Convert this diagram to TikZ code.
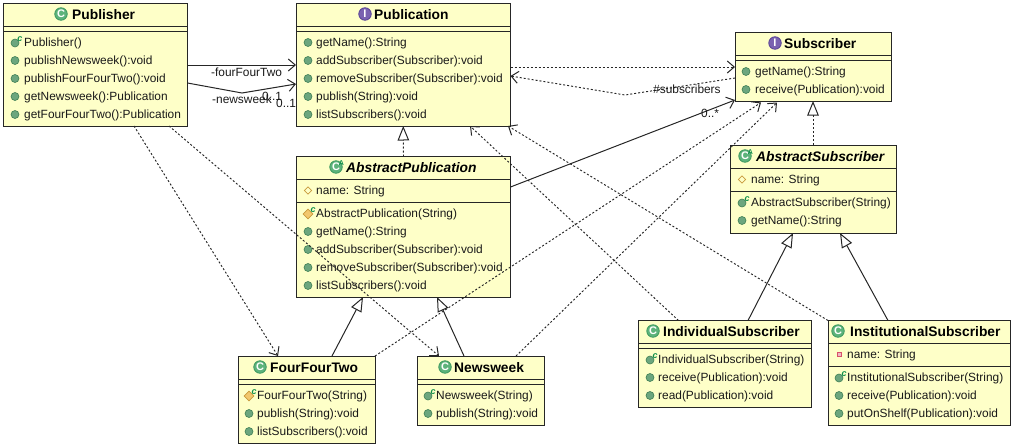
\documentclass[tikz,border=0pt]{standalone}
\usepackage{fontspec}
\setmainfont{Liberation Sans}
\usetikzlibrary{arrows.meta,calc,shapes.geometric}
\definecolor{boxfill}{HTML}{FEFFC8}
\definecolor{boxline}{HTML}{262626}
\definecolor{pubgreen}{HTML}{6CA67E}
\definecolor{pubedge}{HTML}{3F7F55}
\definecolor{classgreen}{HTML}{5DB37B}
\definecolor{classedge}{HTML}{3E9A60}
\definecolor{ctorgreen}{HTML}{0E8F4A}
\definecolor{ifacepurple}{HTML}{7A62B0}
\definecolor{ifaceedge}{HTML}{5A4496}
\definecolor{protorange}{HTML}{F2C76E}
\definecolor{protedge}{HTML}{C89A3C}
\definecolor{privred}{HTML}{D8506A}
\tikzset{
  classbox/.style={draw=boxline,fill=boxfill,line width=1pt,inner sep=0pt,outer sep=0pt,anchor=north west},
  titletext/.style={font=\fontsize{13.8}{15}\selectfont\bfseries,text=black,inner sep=0pt,anchor=base west},
  abstracttext/.style={font=\fontsize{13.8}{15}\selectfont\bfseries\itshape,text=black,inner sep=0pt,anchor=base west},
  membertext/.style={font=\fontsize{11.9}{14}\selectfont,text=black!90,inner sep=0pt,anchor=base west},
  labeltext/.style={font=\fontsize{11.9}{14}\selectfont,text=black!90,inner sep=0pt,anchor=base west},
  greenbadge/.style={circle,draw=classedge,fill=classgreen,line width=.8pt,inner sep=0pt,minimum size=12.5pt,text=white,font=\fontsize{11}{11}\selectfont\bfseries},
  purplebadge/.style={circle,draw=ifaceedge,fill=ifacepurple,line width=.8pt,inner sep=0pt,minimum size=12.5pt,text=white,font=\fontsize{11}{11}\selectfont\bfseries},
  bullet/.style={circle,draw=pubedge,fill=pubgreen,line width=.6pt,inner sep=0pt,minimum size=8pt},
  protfield/.style={diamond,draw=protedge,fill=boxfill,line width=.8pt,inner sep=0pt,minimum size=7.5pt},
  protctor/.style={diamond,draw=protedge,fill=protorange,line width=.6pt,inner sep=0pt,minimum size=10pt},
  privfield/.style={rectangle,draw=privred,fill=privred!40,line width=1pt,inner sep=0pt,minimum size=4pt},
  marker/.style={text=ctorgreen,font=\fontsize{9}{9}\selectfont\bfseries\itshape,inner sep=0pt},
  abstractmark/.style={text=ctorgreen,font=\fontsize{7}{7}\selectfont\bfseries,inner sep=0pt},
  solidline/.style={draw=boxline,line width=1pt},
  dotline/.style={draw=boxline,line width=.95pt,dash pattern=on 2pt off 2pt},
  barb/.style={-{Straight Barb[length=7pt,width=12pt,line width=1pt]}},
  hollow/.style={-{Triangle[open,length=14.5pt,width=11.5pt,line width=1pt]}},
}
\newcounter{itemno}
\newcommand{\classrect}[7]{% name x0 y0 x1 y1 sep1 sep2
  \node[classbox,minimum width=#4pt-#2pt,minimum height=#5pt-#3pt] (#1) at (#2,#3) {};
  \draw[boxline,line width=1pt] (#2,#6) -- (#4,#6);
  \draw[boxline,line width=1pt] (#2,#7) -- (#4,#7);}
\newcommand{\titlerow}[6]{% badge style, letter, badge x, text x, y, text
  \stepcounter{itemno}
  \node[#1] (b\arabic{itemno}) at (#3,#5) {#2};
  \node[titletext] (t\arabic{itemno}) at (#4,#5+5) {#6};}
\newcommand{\abstractrow}[4]{% badge x, text x, y, text
  \stepcounter{itemno}
  \node[greenbadge] (b\arabic{itemno}) at (#1,#3) {C};
  \node[abstractmark] (a\arabic{itemno}) at (#1+5.5,#3-4) {A};
  \node[abstracttext] (t\arabic{itemno}) at (#2,#3+5) {#4};}
\newcommand{\methodrow}[4]{% icon x, text x, y, text
  \stepcounter{itemno}
  \node[bullet] (b\arabic{itemno}) at (#1,#3+.5) {};
  \node[membertext] (m\arabic{itemno}) at (#2,#3+4.3) {#4};}
\newcommand{\ctorrow}[4]{%
  \stepcounter{itemno}
  \node[bullet] (b\arabic{itemno}) at (#1,#3+1) {};
  \node[marker] (c\arabic{itemno}) at (#1+5,#3-3) {c};
  \node[membertext] (m\arabic{itemno}) at (#2,#3+4.3) {#4};}
\newcommand{\protctorrow}[4]{%
  \stepcounter{itemno}
  \node[protctor] (b\arabic{itemno}) at (#1,#3+1) {};
  \node[marker] (c\arabic{itemno}) at (#1+5,#3-3) {c};
  \node[membertext] (m\arabic{itemno}) at (#2,#3+4.3) {#4};}
\newcommand{\protfieldrow}[4]{%
  \stepcounter{itemno}
  \node[protfield] (b\arabic{itemno}) at (#1,#3+.5) {};
  \node[membertext] (m\arabic{itemno}) at (#2,#3+4.3) {#4};}
\newcommand{\privfieldrow}[4]{%
  \stepcounter{itemno}
  \node[privfield] (b\arabic{itemno}) at (#1,#3+.5) {};
  \node[membertext] (m\arabic{itemno}) at (#2,#3+4.3) {#4};}
\begin{document}
\begin{tikzpicture}[x=1pt,y=-1pt]
\useasboundingbox (0,0) rectangle (1014,447);
% Publisher
\classrect{publisher}{3.5}{3.5}{187.5}{126}{26}{31}
\titlerow{greenbadge}{C}{61}{72}{14}{Publisher}
\ctorrow{15}{24}{42}{Publisher()}
\methodrow{15}{24}{60}{publishNewsweek():void}
\methodrow{15}{24}{78}{publishFourFourTwo():void}
\methodrow{15}{24}{96}{getNewsweek():Publication}
\methodrow{15}{24}{114}{getFourFourTwo():Publication}
% Publication
\classrect{publication}{296}{3.5}{510.5}{126}{26}{31}
\titlerow{purplebadge}{I}{365}{374}{14}{Publication}
\methodrow{308}{316}{42}{getName():String}
\methodrow{308}{316}{60}{addSubscriber(Subscriber):void}
\methodrow{308}{316}{78}{removeSubscriber(Subscriber):void}
\methodrow{308}{316}{96}{publish(String):void}
\methodrow{308}{316}{114}{listSubscribers():void}
% AbstractPublication
\classrect{abstractpub}{296.5}{156.5}{510.5}{297}{179}{202}
\abstractrow{336}{346}{167}{AbstractPublication}
\protfieldrow{308}{316}{190}{name: String}
\protctorrow{308}{316}{213}{AbstractPublication(String)}
\methodrow{308}{316}{231}{getName():String}
\methodrow{308}{316}{249}{addSubscriber(Subscriber):void}
\methodrow{308}{316}{267}{removeSubscriber(Subscriber):void}
\methodrow{308}{316}{285}{listSubscribers():void}
% Subscriber
\classrect{subscriber}{735}{32.5}{891}{101}{55}{60}
\titlerow{purplebadge}{I}{775}{784}{43}{Subscriber}
\methodrow{746}{755}{71}{getName():String}
\methodrow{746}{755}{89}{receive(Publication):void}
% AbstractSubscriber
\classrect{abstractsub}{730}{145}{896}{233}{168}{191}
\abstractrow{745}{756}{156}{AbstractSubscriber}
\protfieldrow{742}{751}{179}{name: String}
\ctorrow{742}{751}{202}{AbstractSubscriber(String)}
\methodrow{742}{751}{220}{getName():String}
% FourFourTwo
\classrect{fourfourtwo}{238}{356}{375}{443}{379}{384}
\titlerow{greenbadge}{C}{260}{270}{367}{FourFourTwo}
\protctorrow{249}{257}{395}{FourFourTwo(String)}
\methodrow{249}{257}{413}{publish(String):void}
\methodrow{249}{257}{431}{listSubscribers():void}
% Newsweek
\classrect{newsweek}{417}{356}{544}{425}{379}{384}
\titlerow{greenbadge}{C}{445}{454}{367}{Newsweek}
\ctorrow{428}{436}{395}{Newsweek(String)}
\methodrow{428}{436}{413}{publish(String):void}
% IndividualSubscriber
\classrect{individual}{638.5}{320.5}{811}{407}{343}{348}
\titlerow{greenbadge}{C}{653}{663}{331}{IndividualSubscriber}
\ctorrow{650}{658}{359}{IndividualSubscriber(String)}
\methodrow{650}{658}{377}{receive(Publication):void}
\methodrow{650}{658}{395}{read(Publication):void}
% InstitutionalSubscriber
\classrect{institutional}{828}{320.5}{1010}{425}{343}{366}
\titlerow{greenbadge}{C}{838}{850}{331}{InstitutionalSubscriber}
\privfieldrow{839}{847}{354}{name: String}
\ctorrow{839}{847}{377}{InstitutionalSubscriber(String)}
\methodrow{839}{847}{395}{receive(Publication):void}
\methodrow{839}{847}{413}{putOnShelf(Publication):void}
% bend points
\coordinate (newsbend) at (242,93);
\coordinate (subsbend) at (625,95);
% solid associations
\draw[solidline,barb] ($(publisher.north west)+(184,61.5)$) -- ($(publication.north west)+(0,61.5)$);
\draw[solidline,barb] ($(publisher.north west)+(184,79.5)$) -- (newsbend) -- ($(publication.north west)+(0,80.5)$);
\draw[solidline,barb] ($(abstractpub.north west)+(214,30.5)$) -- ($(subscriber.north west)+(0,67.5)$);
% dependencies
\draw[dotline,barb] ($(publication.north west)+(214.5,63.5)$) -- ($(subscriber.north west)+(0,34.5)$);
\draw[dotline,barb] ($(subscriber.north west)+(0,45.5)$) -- (subsbend) -- ($(publication.north west)+(214.5,72.5)$);
\draw[dotline,barb] ($(fourfourtwo.north west)+(137,0)$) -- ($(subscriber.north west)+(26,70)$);
\draw[dotline,barb] ($(newsweek.north west)+(99,0)$) -- ($(subscriber.north west)+(42,70)$);
\draw[dotline,barb] ($(publisher.north west)+(130.5,122.5)$) -- ($(fourfourtwo.north west)+(40,0)$);
\draw[dotline,barb] ($(publisher.north west)+(165.5,122.5)$) -- ($(newsweek.north west)+(22,0)$);
\draw[dotline,barb] ($(individual.north west)+(40,0)$) -- ($(publication.north west)+(174,122.5)$);
\draw[dotline,barb] ($(institutional.north west)+(0,0)$) -- ($(publication.north west)+(212,122.5)$);
% realizations
\draw[dotline,hollow] (abstractpub.north) -- (publication.south);
\draw[dotline,hollow] (abstractsub.north) -- (subscriber.south);
% generalizations
\draw[solidline,hollow] ($(individual.north west)+(109.5,0)$) -- ($(abstractsub.north west)+(63,88)$);
\draw[solidline,hollow] ($(institutional.north west)+(60,0)$) -- ($(abstractsub.north west)+(110,88)$);
\draw[solidline,hollow] ($(fourfourtwo.north west)+(94,0)$) -- ($(abstractpub.north west)+(66.5,140.5)$);
\draw[solidline,hollow] ($(newsweek.north west)+(47,0)$) -- ($(abstractpub.north west)+(140.5,140.5)$);
% labels
\node[labeltext] (lfft) at (211,76) {-fourFourTwo};
\node[labeltext] (lnews) at (212,103) {-newsweek};
\node[labeltext] (lm1) at (262,100) {0..1};
\node[labeltext] (lm2) at (276,107) {0..1};
\node[labeltext] (lsubs) at (653,93) {\#subscribers};
\node[labeltext] (lm3) at (701,117) {0..*};
\end{tikzpicture}
\end{document}
